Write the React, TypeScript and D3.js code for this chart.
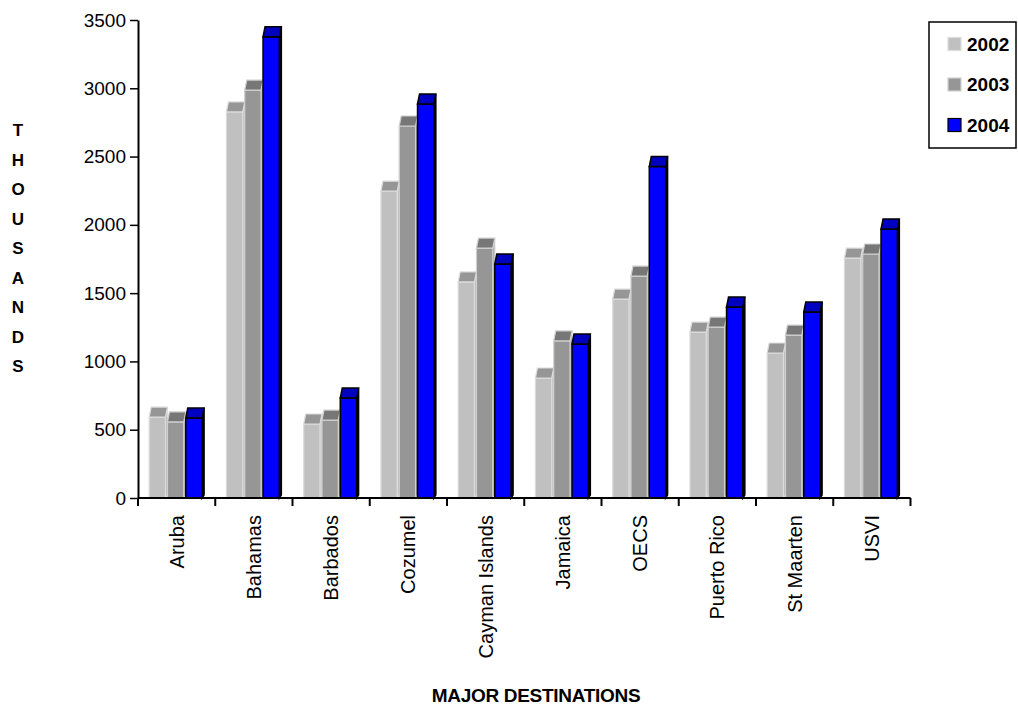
import { useEffect, useRef } from 'react';
import * as d3 from 'd3';

const categories = ['Aruba', 'Bahamas', 'Barbados', 'Cozumel', 'Cayman Islands', 'Jamaica', 'OECS', 'Puerto Rico', 'St Maarten', 'USVI'];
const years = ['2002', '2003', '2004'];
const values2002 = [666, 2900, 615, 2320, 1655, 952, 1530, 1288, 1135, 1830];
const values2003 = [630, 3060, 644, 2797, 1903, 1223, 1698, 1325, 1266, 1860];
const values2004 = [659, 3450, 805, 2958, 1786, 1200, 2500, 1471, 1435, 2042];
const yTicks = [0, 500, 1000, 1500, 2000, 2500, 3000, 3500];

const seriesStyle = [
  { front: '#c0c0c0', top: '#969696', side: '#b0b0b0', stroke: '#dcdcdc' },
  { front: '#969696', top: '#777777', side: '#888888', stroke: '#d0d0d0' },
  { front: '#0000ff', top: '#0000c0', side: '#000000', stroke: '#000000' },
];

const font = 'Arial, "Liberation Sans", sans-serif';

const App = () => {
  const svgRef = useRef<SVGSVGElement | null>(null);

  useEffect(() => {
    if (!svgRef.current) return;
    const svg = d3.select(svgRef.current);
    svg.selectAll('*').remove();

    const left = 138, right = 910.5, top = 20, bottom = 498;
    const depth = 10, shift = 2;

    const x = d3.scaleBand<string>().domain(categories).range([left, right]);
    const xi = d3.scaleBand<string>().domain(years).range([0, x.bandwidth()]).paddingOuter(0.61);
    const y = d3.scaleLinear().domain([0, 3500]).range([bottom, top]);

    const series = [values2002, values2003, values2004];

    const bars = svg.append('g');
    categories.forEach((c, ci) => {
      series.forEach((vals, si) => {
        const st = seriesStyle[si];
        const x0 = (x(c) || 0) + (xi(years[si]) || 0);
        const w = xi.bandwidth();
        const yt = y(vals[ci]);
        const g = bars.append('g');
        const sw = si === 2 ? 1.5 : 1.2;
        // right side
        g.append('path')
          .attr('d', `M${x0 + w - shift},${yt + depth} L${x0 + w},${yt} L${x0 + w},${bottom - 3} L${x0 + w - shift},${bottom} Z`)
          .attr('fill', st.side).attr('stroke', st.stroke).attr('stroke-width', sw);
        // front
        g.append('rect')
          .attr('x', x0).attr('y', yt + depth)
          .attr('width', w - shift).attr('height', bottom - yt - depth)
          .attr('fill', st.front).attr('stroke', st.stroke).attr('stroke-width', sw);
        // top
        g.append('path')
          .attr('d', `M${x0},${yt + depth} L${x0 + shift},${yt} L${x0 + w},${yt} L${x0 + w - shift},${yt + depth} Z`)
          .attr('fill', st.top).attr('stroke', st.stroke).attr('stroke-width', sw);
      });
    });

    // y axis
    const yAxis = svg.append('g').attr('transform', `translate(${left},0)`)
      .call(d3.axisLeft(y).tickValues(yTicks).tickFormat(d3.format('d')).tickSize(8).tickPadding(4).tickSizeOuter(0));
    yAxis.select('.domain').attr('stroke', '#000').attr('stroke-width', 2);
    yAxis.selectAll('.tick line').attr('stroke', '#000').attr('stroke-width', 1.5);
    yAxis.selectAll('.tick text').attr('font-size', 19).attr('font-family', font).attr('fill', '#000');

    // x axis
    const xg = svg.append('g');
    xg.append('line').attr('x1', left).attr('x2', right).attr('y1', bottom).attr('y2', bottom)
      .attr('stroke', '#000').attr('stroke-width', 2);
    const bounds = categories.map(c => x(c) || 0).concat([right]);
    xg.selectAll('line.tick').data(bounds).enter().append('line')
      .attr('class', 'tick')
      .attr('x1', d => d).attr('x2', d => d).attr('y1', bottom).attr('y2', bottom + 8)
      .attr('stroke', '#000').attr('stroke-width', 2);
    xg.selectAll('text').data(categories).enter().append('text')
      .attr('transform', d => `translate(${(x(d) || 0) + x.bandwidth() / 2},515) rotate(-90)`)
      .attr('dy', '0.35em')
      .attr('text-anchor', 'end')
      .attr('font-size', 20).attr('font-family', font)
      .text(d => d);

    // axis titles
    const title = 'THOUSANDS'.split('');
    svg.append('g').selectAll('text').data(title).enter().append('text')
      .attr('x', 18).attr('y', (_, i) => 136 + i * 29.5)
      .attr('text-anchor', 'middle')
      .attr('font-size', 17).attr('font-weight', 'bold').attr('font-family', font)
      .text(d => d);

    svg.append('text')
      .attr('x', 536).attr('y', 702)
      .attr('text-anchor', 'middle')
      .attr('font-size', 19).attr('font-weight', 'bold').attr('font-family', font)
      .attr('letter-spacing', -0.3)
      .text('MAJOR DESTINATIONS');

    // legend
    const lg = svg.append('g');
    lg.append('rect').attr('x', 929).attr('y', 22).attr('width', 87).attr('height', 126)
      .attr('fill', '#fff').attr('stroke', '#000').attr('stroke-width', 1.5);
    const ly = d3.scalePoint<string>().domain(years).range([44, 125]);
    years.forEach((yr, i) => {
      const cy = ly(yr) || 0;
      lg.append('rect').attr('x', 948).attr('y', cy - 6.5).attr('width', 13).attr('height', 13)
        .attr('fill', seriesStyle[i].front)
        .attr('stroke', i === 2 ? '#000' : seriesStyle[i].stroke).attr('stroke-width', 1.2);
      lg.append('text').attr('x', 967).attr('y', cy).attr('dy', '0.36em')
        .attr('font-size', 19).attr('font-weight', 'bold').attr('font-family', font)
        .text(yr);
    });
  }, []);

  return (
    <svg ref={svgRef} width={1018} height={706}
      style={{ position: 'absolute', left: 0, top: 0, background: '#fff' }} />
  );
};

export default App;
